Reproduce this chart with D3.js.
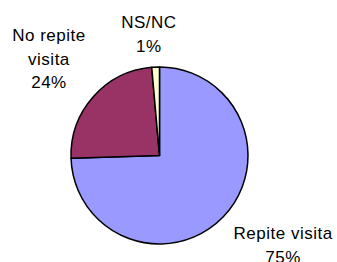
<!DOCTYPE html>
<html>
<head>
<meta charset="utf-8">
<script src="https://cdn.jsdelivr.net/npm/d3@7"></script>
<style>
  body { margin: 0; background: #fff; }
  svg { display: block; }
</style>
</head>
<body>
<svg id="chart"></svg>
<script>
// donnees
const categories = ["Repite visita", "No repite visita", "NS/NC"];
const values = [74.5, 24.1, 1.4];
const pctLabels = ["75%", "24%", "1%"];
// lignes de texte des etiquettes
const labelLines = [["Repite visita"], ["No repite", "visita"], ["NS/NC"]];

const colors = ["#9999ff", "#993366", "#ffffcc"];

const width = 337;
const height = 262;
const cx = 159.5;
const cy = 155.5;
const r = 88.5;
const lineH = 23.5;
// decalage des etiquettes par rapport au point a 1.3*r (comme Excel)
const nudges = [[41, 3.5], [-24.5, -37.8], [-5.6, -12.2]];

const svg = d3.select("#chart")
  .attr("width", width)
  .attr("height", height);

const pie = d3.pie().sort(null).value(d => d.value);
const arcs = pie(categories.map((c, i) => ({ name: c, value: values[i], i: i })));

const arc = d3.arc().innerRadius(0).outerRadius(r);
const labelArc = d3.arc().innerRadius(r * 1.3).outerRadius(r * 1.3);

const g = svg.append("g").attr("transform", `translate(${cx},${cy})`);

g.selectAll("path")
  .data(arcs)
  .enter()
  .append("path")
  .attr("d", arc)
  .attr("fill", d => colors[d.data.i])
  .attr("stroke", "black")
  .attr("stroke-width", 1.5)
  .attr("stroke-linejoin", "round");

// Etiquettes
const labels = g.selectAll("text.lbl")
  .data(arcs)
  .enter()
  .append("text")
  .attr("class", "lbl")
  .attr("text-anchor", "middle")
  .style("font-family", "Liberation Sans, Arial, sans-serif")
  .style("font-size", "17px")
  .style("letter-spacing", "0.5px")
  .attr("fill", "black")
  .attr("transform", d => {
    const p = labelArc.centroid(d);
    const n = nudges[d.data.i];
    return `translate(${p[0] + n[0]},${p[1] + n[1]})`;
  });

labels.each(function(d) {
  const t = d3.select(this);
  const lines = labelLines[d.data.i].concat([pctLabels[d.data.i]]);
  lines.forEach((l, k) => {
    t.append("tspan")
      .attr("x", 0)
      .attr("y", k * lineH)
      .text(l);
  });
});
</script>
</body>
</html>
